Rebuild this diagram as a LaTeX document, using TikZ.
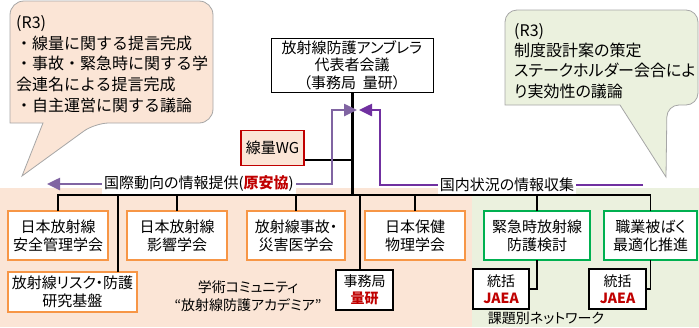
\documentclass[tikz,border=0pt]{standalone}
\usepackage{fontspec}
\setmainfont{Noto Sans CJK JP}[RawFeature=+palt]
\newfontfamily\jpfull{Noto Sans CJK JP}
\usetikzlibrary{arrows.meta,positioning}
\definecolor{peach}{HTML}{FBE5D6}
\definecolor{sage}{HTML}{EBF1DE}
\definecolor{orng}{HTML}{F79646}
\definecolor{grn}{HTML}{00B050}
\definecolor{crimson}{HTML}{C00000}
\definecolor{lilac}{HTML}{8064A2}
\definecolor{violet}{HTML}{7030A0}
\definecolor{rim}{HTML}{A6A6A6}
\newcommand{\redbf}[1]{\textcolor{crimson}{\bfseries #1}}

\begin{document}
\begin{tikzpicture}[x=1pt,y=-1pt,>={Triangle[length=13pt,width=12pt]},
  acad/.style={draw=orng,line width=2.5pt,outer sep=0pt,fill=white,align=center,font=\fontsize{15}{18}\selectfont,minimum height=49pt,inner sep=1pt},
  netw/.style={acad,draw=grn},
  office/.style={draw,line width=1.6pt,outer sep=0pt,fill=white,align=center,font=\fontsize{14}{17}\selectfont,minimum height=40pt,inner sep=1pt},
  tie/.style={line width=1.6pt},
  callL/.style={draw=rim,fill=peach,line width=0.8pt},
  callR/.style={draw=rim,fill=sage,line width=0.8pt},
  note/.style={anchor=north west,align=left,inner sep=0pt},
  flow/.style={fill=white,inner sep=2pt,font=\fontsize{15}{18}\selectfont}]
\useasboundingbox (0,0) rectangle (699,327);
% background areas
\fill[peach] (0,188) rectangle (472,327);
\fill[sage] (472,188) rectangle (699,327);
% callouts
\draw[callL] (22,176) -- (43,123) -- (10,123) [rounded corners=14pt] -- (10,1) -- (213,1) -- (213,123) -- (95,123) [sharp corners] -- cycle;
\draw[callR] (666,177) -- (620,105) -- (505,105) [rounded corners=12pt] -- (505,10) -- (698,10) -- (698,105) -- (667,105) [sharp corners] -- cycle;
\node[note,font=\jpfull\fontsize{16}{20.8}\selectfont] (noteL) at (16,15) {(R3)\\・線量に関する提言完成\\・事故・緊急時に関する学\\会連名による提言完成\\・自主運営に関する議論};
\node[note,font=\fontsize{16}{20.3}\selectfont] (noteR) at (514,23) {(R3)\\制度設計案の策定\\ステークホルダー会合によ\\り実効性の議論};

% nodes
\node[draw,line width=1pt,fill=white,align=center,minimum width=162pt,minimum height=54pt,inner sep=1pt,font=\fontsize{15}{17.5}\selectfont] (umb) at (352,65) {放射線防護アンブレラ\\代表者会議\\（事務局\hspace{7pt}量研）};
\node[draw=crimson,line width=1.6pt,fill=peach,minimum width=63pt,minimum height=35pt,inner sep=1pt,font=\fontsize{15}{18}\selectfont] (wg) at (272.5,148) {線量WG};

\node[acad,minimum width=100pt] (anzen) at (58,235.5) {日本放射線\\安全管理学会};
\node[acad,minimum width=100pt,right=19pt of anzen] (eikyo) {日本放射線\\影響学会};
\node[acad,minimum width=98pt,right=20pt of eikyo] (saigai) {放射線事故・\\災害医学会};
\node[acad,minimum width=100pt,right=20pt of saigai] (hoken) {日本保健\\物理学会};
\node[netw,minimum width=106pt,right=19pt of hoken] (kinkyu) {緊急時放射線\\防護検討};
\node[netw,minimum width=93pt,right=14pt of kinkyu] (shokugyo) {職業被ばく\\最適化推進};
\node[acad,minimum width=129pt,minimum height=40pt,anchor=north west] (risk) at ([yshift=-12pt]anzen.south west) {放射線リスク・防護\\研究基盤};

\node[office,minimum width=57pt] (jimu) at (364.5,290) {事務局\\\redbf{量研}};
\node[office,minimum width=56pt] (tk1) at (501,289) {統括\\\redbf{JAEA}};
\node[office,minimum width=57pt] (tk2) at (617.5,289) {統括\\\redbf{JAEA}};

\node[align=center,font=\fontsize{14}{18}\selectfont] (academia) at (248,296) {学術コミュニティ\\“放射線防護アカデミア”};
\node[font=\fontsize{14}{16}\selectfont] (network) at (546,318) {課題別ネットワーク};

% tree
\coordinate (bar) at (352,195);
\draw[tie] (anzen.north) |- (bar) -| (shokugyo.north);
\foreach \n in {eikyo,saigai,hoken,kinkyu}
  \draw[tie] (\n.north) -- (\n.north |- bar);
\coordinate (rk) at ([xshift=45.5pt]risk.north);
\draw[tie] (rk) -- (rk |- bar);
\coordinate (jm) at ([xshift=-4.5pt]jimu.north);
\draw[tie] (jm) -- (jm |- bar);
\draw[tie] (kinkyu.south) |- (tk1.east);
\draw[tie] (shokugyo.south) |- (tk2.east);
\coordinate (wgt) at ([yshift=-12pt]wg.east);
\draw[line width=1.2pt] (wgt) -- (wgt -| umb.south);
\draw[line width=3pt] (umb.south) -- (umb.south |- bar);

% information flows
\coordinate (hubL) at (357,110);
\coordinate (hubR) at (359,110);
\coordinate (intlTip) at (47,184);
\coordinate (domEnd) at (643,185);
\draw[lilac,line width=2.5pt,<->] (intlTip) -| (332,110) -- (hubL);
\draw[violet,line width=2.5pt,->] (domEnd) -| (380,110) -- (hubR);
\node[flow] (intl) at (199,184) {国際動向の情報提供(\redbf{原安協})};
\node[flow] (dom) at (507,185) {国内状況の情報収集};
\end{tikzpicture}
\end{document}
